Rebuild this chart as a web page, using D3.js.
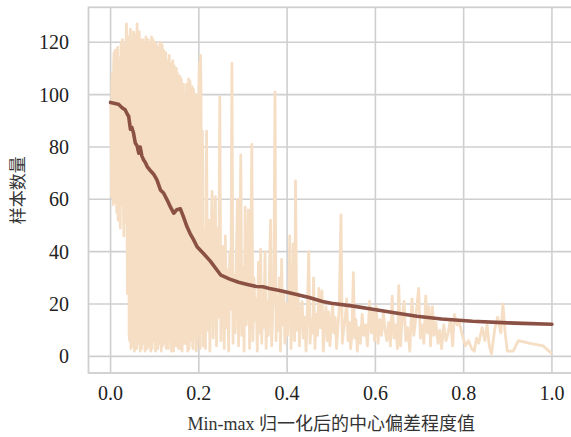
<!DOCTYPE html>
<html>
<head>
<meta charset="utf-8">
<script src="https://cdn.jsdelivr.net/npm/d3@7"></script>
<style>
	body { margin: 0; background: #fff; }
	text { font-family: "Liberation Serif", "Noto Sans CJK SC", serif; fill: #222; }
</style>
</head>
<body>
<div id="chart"></div>
<script>
// tick values
const xTicks = [0, 0.2, 0.4, 0.6, 0.8, 1.0];
const yTicks = [0, 20, 40, 60, 80, 100, 120];

// raw counts per deviation value: [deviation, count]
const samples = [
	[0.000, 97], [0.002, 61], [0.004, 108], [0.006, 58], [0.008, 116], [0.010, 72], [0.012, 112],
	[0.014, 55], [0.016, 118], [0.018, 66], [0.020, 104], [0.022, 49], [0.024, 120], [0.026, 63],
	[0.028, 115], [0.030, 46], [0.032, 119], [0.034, 57], [0.036, 127], [0.038, 24], [0.040, 113],
	[0.042, 9], [0.044, 122], [0.046, 3], [0.048, 118], [0.050, 12], [0.052, 124], [0.054, 2],
	[0.056, 110], [0.058, 7], [0.060, 127], [0.062, 5], [0.064, 116], [0.066, 18], [0.068, 121],
	[0.070, 3], [0.072, 104], [0.074, 10], [0.076, 119], [0.078, 2], [0.080, 122], [0.082, 14],
	[0.084, 112], [0.086, 4], [0.088, 120], [0.090, 8], [0.092, 118], [0.094, 3], [0.096, 121],
	[0.098, 11], [0.100, 107], [0.102, 2], [0.104, 119], [0.106, 9], [0.108, 115], [0.110, 5],
	[0.112, 120], [0.114, 13], [0.116, 109], [0.118, 4], [0.120, 117], [0.122, 8], [0.124, 101],
	[0.126, 3], [0.128, 113], [0.130, 16], [0.132, 110], [0.134, 6], [0.136, 112], [0.138, 2],
	[0.140, 98], [0.142, 10], [0.144, 111], [0.146, 4], [0.148, 105], [0.150, 14], [0.152, 108],
	[0.154, 3], [0.156, 94], [0.158, 9], [0.160, 106], [0.162, 2], [0.164, 103], [0.166, 12],
	[0.168, 100], [0.170, 5], [0.172, 104], [0.174, 8], [0.176, 88], [0.178, 3], [0.180, 105],
	[0.182, 11], [0.184, 97], [0.186, 4], [0.188, 102], [0.190, 7], [0.192, 91], [0.194, 2],
	[0.196, 99], [0.198, 13], [0.200, 103], [0.202, 6], [0.204, 115], [0.206, 9], [0.208, 86],
	[0.210, 4], [0.2125, 48], [0.215, 3], [0.2175, 86], [0.220, 10], [0.2225, 52], [0.225, 2],
	[0.2275, 44], [0.230, 63], [0.2325, 7], [0.235, 38], [0.2375, 61], [0.240, 4], [0.2425, 49],
	[0.245, 15], [0.2475, 99], [0.250, 6], [0.2525, 35], [0.255, 42], [0.2575, 3], [0.260, 46],
	[0.2625, 11], [0.265, 33], [0.2675, 2], [0.270, 40], [0.2725, 18], [0.275, 112], [0.2775, 5],
	[0.280, 31], [0.2825, 9], [0.285, 38], [0.2875, 60], [0.290, 4], [0.2925, 27], [0.295, 77],
	[0.2975, 8], [0.300, 34], [0.3025, 2], [0.305, 57], [0.3075, 12], [0.310, 29], [0.3125, 56],
	[0.315, 3], [0.3175, 24], [0.320, 81], [0.3225, 6], [0.325, 30], [0.3275, 14], [0.330, 22],
	[0.3325, 2], [0.335, 36], [0.3375, 9], [0.340, 41], [0.3425, 5], [0.345, 26], [0.3475, 11],
	[0.350, 40], [0.3525, 3], [0.355, 21], [0.3575, 8], [0.360, 33], [0.3625, 52], [0.365, 4],
	[0.3675, 19], [0.370, 28], [0.3725, 101], [0.375, 6], [0.3775, 23], [0.380, 10], [0.3825, 30],
	[0.385, 2], [0.3875, 37], [0.390, 12], [0.3925, 25], [0.395, 5], [0.3975, 20],
	[0.401, 8], [0.404, 22], [0.406, 46], [0.409, 3], [0.412, 18], [0.414, 43], [0.417, 6],
	[0.419, 67], [0.422, 10], [0.425, 24], [0.428, 4], [0.431, 17], [0.434, 21], [0.437, 7],
	[0.440, 15], [0.443, 2], [0.446, 19], [0.449, 40], [0.452, 5], [0.455, 14], [0.458, 9],
	[0.460, 30], [0.463, 3], [0.466, 16], [0.469, 8], [0.472, 26], [0.475, 11], [0.479, 25],
	[0.482, 2], [0.485, 13], [0.488, 19], [0.491, 6], [0.494, 17], [0.497, 4], [0.500, 12],
	[0.503, 20], [0.506, 9], [0.509, 15], [0.512, 3], [0.515, 11], [0.518, 18], [0.522, 54],
	[0.525, 5], [0.528, 10], [0.532, 15], [0.535, 22], [0.538, 6], [0.541, 13], [0.544, 3],
	[0.547, 9], [0.550, 32], [0.553, 7], [0.556, 14], [0.559, 2], [0.562, 11], [0.566, 5],
	[0.570, 16], [0.574, 8], [0.578, 12], [0.582, 4], [0.587, 21], [0.591, 9], [0.595, 17],
	[0.598, 6], [0.602, 19], [0.606, 5], [0.610, 14], [0.614, 8], [0.618, 17], [0.622, 10],
	[0.626, 6], [0.630, 13], [0.634, 4], [0.638, 23], [0.642, 7], [0.646, 12], [0.650, 3],
	[0.653, 27], [0.657, 4], [0.661, 15], [0.665, 21], [0.669, 6], [0.673, 11], [0.678, 2],
	[0.683, 22], [0.687, 8], [0.691, 14], [0.698, 26], [0.702, 7], [0.706, 12], [0.710, 5],
	[0.714, 23], [0.718, 9], [0.721, 19], [0.725, 4], [0.729, 19], [0.733, 8], [0.737, 13],
	[0.742, 5], [0.746, 10], [0.750, 3], [0.755, 12], [0.760, 6], [0.765, 9], [0.770, 14],
	[0.775, 4], [0.779, 16], [0.785, 12], [0.790, 13], [0.797, 8], [0.804, 4], [0.811, 6],
	[0.818, 3], [0.824, 2], [0.829, 7], [0.834, 5], [0.842, 11], [0.848, 6], [0.853, 12],
	[0.858, 4], [0.863, 1], [0.870, 10], [0.877, 15], [0.884, 9], [0.889, 20], [0.894, 9],
	[0.899, 2], [0.912, 2], [0.924, 6], [0.950, 5], [0.980, 4], [1.000, 1]
];

// the crowded low-deviation part has twice as many bins
const samplesDense = [
	[0.001, 92], [0.003, 104], [0.005, 64], [0.007, 111], [0.009, 59], [0.011, 117], [0.013, 68],
	[0.015, 109], [0.017, 52], [0.019, 114], [0.021, 71], [0.023, 110], [0.025, 58], [0.027, 121],
	[0.029, 62], [0.031, 106], [0.033, 51], [0.035, 116], [0.037, 70], [0.039, 122],
	[0.041, 118], [0.043, 6], [0.045, 125], [0.047, 15], [0.049, 121], [0.051, 4], [0.053, 115],
	[0.055, 26], [0.057, 123], [0.059, 3], [0.061, 119], [0.063, 11], [0.065, 124], [0.067, 2],
	[0.069, 113], [0.071, 20], [0.073, 121], [0.075, 5], [0.077, 108], [0.079, 9], [0.081, 119],
	[0.083, 3], [0.085, 121], [0.087, 17], [0.089, 114], [0.091, 2], [0.093, 122], [0.095, 12],
	[0.097, 116], [0.099, 6], [0.101, 120], [0.103, 15], [0.105, 112], [0.107, 3], [0.109, 118],
	[0.111, 10], [0.113, 106], [0.115, 2], [0.117, 119], [0.119, 18], [0.121, 110], [0.123, 5],
	[0.125, 116], [0.127, 9], [0.129, 104], [0.131, 3], [0.133, 115], [0.135, 12], [0.137, 107],
	[0.139, 6], [0.141, 113], [0.143, 2], [0.145, 102], [0.147, 15], [0.149, 110], [0.151, 4],
	[0.153, 100], [0.155, 10], [0.157, 107], [0.159, 3], [0.161, 97], [0.163, 14], [0.165, 104],
	[0.167, 5], [0.169, 92], [0.171, 9], [0.173, 101], [0.175, 2], [0.177, 106], [0.179, 16],
	[0.181, 95], [0.183, 6], [0.185, 103], [0.187, 3], [0.189, 89], [0.191, 12], [0.193, 100],
	[0.195, 5], [0.197, 94], [0.199, 8], [0.201, 112], [0.203, 3], [0.205, 98], [0.207, 14],
	[0.209, 72]
];

// smoothed trend: [deviation, count]
const trend = [
	[0.000, 97], [0.010, 96.6], [0.018, 96.3], [0.026, 95], [0.033, 94.2], [0.038, 92.5],
	[0.041, 91.7], [0.045, 86.8], [0.048, 87.5], [0.052, 85.3], [0.056, 81.5], [0.060, 80.5],
	[0.064, 77.6], [0.067, 80], [0.071, 76.5], [0.075, 75], [0.079, 74], [0.083, 72.5],
	[0.090, 71], [0.098, 69.5], [0.105, 67.4], [0.113, 63.6], [0.120, 62.4], [0.128, 59.8],
	[0.135, 57.3], [0.143, 54.7], [0.150, 56], [0.158, 56.4], [0.165, 53.4], [0.173, 49.6],
	[0.180, 47], [0.188, 44.6], [0.196, 41.9], [0.211, 39.2], [0.226, 36.4], [0.241, 33],
	[0.250, 31], [0.270, 29.5], [0.290, 28.3], [0.310, 27.5], [0.330, 26.7], [0.345, 26.6],
	[0.360, 25.9], [0.380, 25.3], [0.400, 24.5], [0.450, 22.5], [0.480, 21], [0.500, 20.3],
	[0.550, 19.2], [0.594, 18], [0.650, 16.5], [0.694, 15.3], [0.750, 14.3], [0.820, 13.4],
	[0.900, 12.8], [0.934, 12.6], [1.000, 12.3]
];

const width = 571, height = 437;
// axes box (right edge runs off the picture like in the source)
const box = { left: 88.5, right: 574, top: 7.3, bottom: 373 };

const allSamples = samples.concat(samplesDense).sort((a, b) => a[0] - b[0]);

const svg = d3.select('#chart')
	.append('svg')
	.attr('width', width)
	.attr('height', height);

const x = d3.scaleLinear().domain([-0.05, 1.05]).range([box.left, box.right]);
const y = d3.scaleLinear().domain([-6.35, 133.35]).range([box.bottom, box.top]);

const GRID = '#cfcfcf';

// grid lines
svg.append('g')
	.selectAll('line')
	.data(xTicks)
	.enter()
	.append('line')
	.attr('x1', d => x(d)).attr('x2', d => x(d))
	.attr('y1', box.top).attr('y2', box.bottom)
	.attr('stroke', GRID).attr('stroke-width', 1.6);

svg.append('g')
	.selectAll('line')
	.data(yTicks)
	.enter()
	.append('line')
	.attr('x1', box.left).attr('x2', box.right)
	.attr('y1', d => y(d)).attr('y2', d => y(d))
	.attr('stroke', GRID).attr('stroke-width', 1.6);

// frame
svg.append('rect')
	.attr('x', box.left).attr('y', box.top)
	.attr('width', box.right - box.left).attr('height', box.bottom - box.top)
	.attr('fill', 'none').attr('stroke', GRID).attr('stroke-width', 1.8);

const line = d3.line()
	.x(d => x(d[0]))
	.y(d => y(d[1]));

// raw series
svg.append('path')
	.datum(allSamples)
	.attr('d', line)
	.attr('fill', 'none')
	.attr('stroke', '#f5dec4')
	.attr('stroke-width', 2.8)
	.attr('stroke-linejoin', 'round');

// trend
svg.append('path')
	.datum(trend)
	.attr('d', line)
	.attr('fill', 'none')
	.attr('stroke', '#8b5145')
	.attr('stroke-width', 3.6)
	.attr('stroke-linejoin', 'round')
	.attr('stroke-linecap', 'round');

// tick labels
svg.append('g')
	.selectAll('text')
	.data(xTicks)
	.enter()
	.append('text')
	.attr('x', d => x(d))
	.attr('y', 400)
	.attr('text-anchor', 'middle')
	.style('font-size', '20px')
	.text(d => d3.format('.1f')(d));

svg.append('g')
	.selectAll('text')
	.data(yTicks)
	.enter()
	.append('text')
	.attr('x', 69)
	.attr('y', d => y(d))
	.attr('dy', '0.35em')
	.attr('text-anchor', 'end')
	.style('font-size', '20px')
	.text(d => d);

// axis titles
svg.append('text')
	.attr('x', (x(0) + x(1)) / 2)
	.attr('y', 430)
	.attr('text-anchor', 'middle')
	.style('font-size', '18px')
	.style('fill', '#333')
	.text('Min-max 归一化后的中心偏差程度值');

svg.append('text')
	.attr('transform', `translate(24,${(box.top + box.bottom) / 2}) rotate(-90)`)
	.attr('text-anchor', 'middle')
	.style('font-size', '17px')
	.style('fill', '#333')
	.text('样本数量');
</script>
</body>
</html>
